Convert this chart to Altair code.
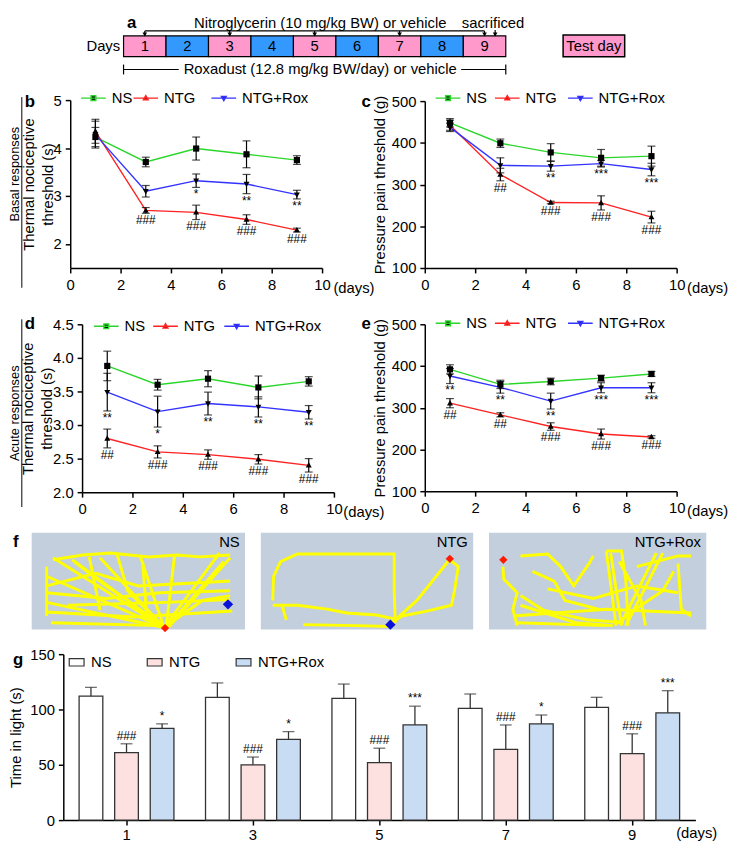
import altair as alt
import pandas as pd

FONT = "Liberation Sans"

# ---------------- categories ----------------
days = [1, 3, 5, 7, 9]
groups = ["NS", "NTG", "NTG+Rox"]
timeline_days = [1, 2, 3, 4, 5, 6, 7, 8, 9]
nitro_days = [1, 3, 5, 7, 9]

# ---------------- panel b: basal thermal threshold (s) ----------------
b_ns = [4.23, 3.71, 3.99, 3.87, 3.75]
b_ns_err = [0.20, 0.10, 0.24, 0.28, 0.09]
b_ntg = [4.35, 2.70, 2.66, 2.51, 2.29]
b_ntg_err = [0.25, 0.06, 0.15, 0.10, 0.04]
b_rox = [4.28, 3.10, 3.32, 3.25, 3.03]
b_rox_err = [0.28, 0.12, 0.14, 0.20, 0.09]
b_ntg_sig = ["", "###", "###", "###", "###"]
b_rox_sig = ["", "", "*", "**", "**"]

# ---------------- panel c: basal pressure pain threshold (g) ----------------
c_ns = [448, 399, 377, 364, 368]
c_ns_err = [10, 10, 21, 20, 24]
c_ntg = [442, 324, 257, 256, 222]
c_ntg_err = [12, 15, 3, 17, 14]
c_rox = [437, 346, 344, 350, 336]
c_rox_err = [10, 18, 12, 8, 15]
c_ntg_sig = ["", "##", "###", "###", "###"]
c_rox_sig = ["", "", "**", "***", "***"]

# ---------------- panel d: acute thermal threshold (s) ----------------
d_ns = [3.88, 3.60, 3.69, 3.56, 3.65]
d_ns_err = [0.22, 0.08, 0.12, 0.17, 0.07]
d_ntg = [2.80, 2.60, 2.56, 2.49, 2.40]
d_ntg_err = [0.14, 0.09, 0.07, 0.07, 0.10]
d_rox = [3.49, 3.20, 3.32, 3.27, 3.19]
d_rox_err = [0.28, 0.23, 0.17, 0.15, 0.10]
d_ntg_sig = ["##", "###", "###", "###", "###"]
d_rox_sig = ["**", "*", "**", "**", "**"]

# ---------------- panel e: acute pressure pain threshold (g) ----------------
e_ns = [392, 356, 363, 371, 381]
e_ns_err = [11, 10, 8, 7, 6]
e_ntg = [311, 283, 255, 237, 230]
e_ntg_err = [11, 5, 9, 12, 3]
e_rox = [376, 349, 316, 348, 348]
e_rox_err = [18, 14, 19, 12, 12]
e_ntg_sig = ["##", "##", "###", "###", "###"]
e_rox_sig = ["**", "**", "**", "***", "***"]

# ---------------- panel g: time in light (s) ----------------
g_ns = [112, 111, 110, 101, 102]
g_ns_err = [8, 13, 13, 13, 9]
g_ntg = [61, 50, 52, 64, 60]
g_ntg_err = [8, 7, 13, 22, 18]
g_rox = [83, 73, 86, 87, 97]
g_rox_err = [4, 7, 17, 8, 20]
g_ntg_sig = ["###", "###", "###", "###", "###"]
g_rox_sig = ["*", "*", "***", "*", "***"]

# ---------------- panel f: traced tracks (fraction of frame) ----------------
ns_tracks = [
    [(0.10, 0.28), (0.24, 0.23), (0.37, 0.21), (0.55, 0.25), (0.68, 0.23), (0.79, 0.25), (0.93, 0.23)],
    [(0.10, 0.26), (0.62, 0.98)],
    [(0.19, 0.28), (0.62, 0.98)],
    [(0.32, 0.26), (0.62, 0.98)],
    [(0.51, 0.25), (0.62, 0.98)],
    [(0.67, 0.23), (0.63, 0.98)],
    [(0.88, 0.21), (0.62, 0.98)],
    [(0.93, 0.26), (0.64, 0.98)],
    [(0.07, 0.45), (0.62, 0.98)],
    [(0.07, 0.72), (0.62, 0.98)],
    [(0.07, 0.82), (0.48, 0.87), (0.94, 0.81)],
    [(0.09, 0.93), (0.60, 0.96)],
    [(0.17, 0.75), (0.63, 0.72), (0.93, 0.69)],
    [(0.07, 0.35), (0.07, 0.86)],
    [(0.27, 0.25), (0.32, 0.80)],
    [(0.52, 0.30), (0.54, 0.88)],
    [(0.64, 0.96), (0.90, 0.30)],
    [(0.07, 0.55), (0.30, 0.42), (0.50, 0.55), (0.93, 0.50)],
    [(0.20, 0.30), (0.35, 0.55), (0.45, 0.70), (0.62, 0.98)],
    [(0.40, 0.22), (0.45, 0.60), (0.62, 0.98)],
    [(0.07, 0.62), (0.35, 0.68), (0.60, 0.62), (0.93, 0.60)],
    [(0.62, 0.98), (0.80, 0.70), (0.93, 0.65)],
]
ntg_tracks = [
    [(0.056, 0.70), (0.060, 0.45), (0.093, 0.30), (0.172, 0.22), (0.405, 0.22), (0.628, 0.22), (0.628, 0.60), (0.633, 0.93)],
    [(0.056, 0.75), (0.172, 0.75), (0.312, 0.79), (0.405, 0.83), (0.544, 0.85), (0.628, 0.89)],
    [(0.614, 0.94), (0.735, 0.70), (0.888, 0.28)],
    [(0.888, 0.28), (0.930, 0.35), (0.912, 0.60), (0.898, 0.75), (0.781, 0.81), (0.665, 0.86), (0.614, 0.93)],
    [(0.20, 0.95), (0.45, 0.96), (0.61, 0.97)],
    [(0.10, 0.75), (0.12, 0.90)],
]
rox_tracks = [
    [(0.064, 0.35), (0.068, 0.48), (0.13, 0.62), (0.11, 0.79), (0.13, 0.96)],
    [(0.145, 0.24), (0.27, 0.22), (0.33, 0.35), (0.39, 0.55), (0.46, 0.32), (0.48, 0.24)],
    [(0.54, 0.19), (0.585, 0.96)],
    [(0.56, 0.21), (0.61, 0.96)],
    [(0.54, 0.19), (0.61, 0.19), (0.63, 0.50), (0.64, 0.96)],
    [(0.80, 0.21), (0.63, 0.96)],
    [(0.77, 0.21), (0.61, 0.93)],
    [(0.68, 0.35), (0.87, 0.24), (0.93, 0.24)],
    [(0.87, 0.32), (0.885, 0.79), (0.93, 0.86)],
    [(0.11, 0.86), (0.54, 0.79), (0.93, 0.83)],
    [(0.13, 0.93), (0.54, 0.96)],
    [(0.145, 0.75), (0.40, 0.93), (0.57, 0.96)],
    [(0.27, 0.58), (0.48, 0.68), (0.68, 0.55), (0.87, 0.62)],
    [(0.20, 0.40), (0.30, 0.50), (0.35, 0.70), (0.52, 0.80)],
    [(0.60, 0.30), (0.70, 0.70), (0.72, 0.96)],
    [(0.85, 0.40), (0.80, 0.60), (0.70, 0.75), (0.58, 0.95)],
    [(0.145, 0.65), (0.25, 0.80), (0.45, 0.90), (0.62, 0.93)],
]
blue_marks = {"NS": [(0.92, 0.74)], "NTG": [(0.61, 0.95)], "NTG+Rox": []}
red_marks = {"NS": [(0.625, 0.985)], "NTG": [(0.89, 0.27)], "NTG+Rox": [(0.066, 0.28)]}

# ---------------- styles / layout (page pixels, converted by P) ----------------
W, H = 720, 828
LINE_COLORS = ["#2bd62b", "#ff2222", "#3333ff"]
MARKERS = [
    "M-0.25,-0.25H0.25V0.25H-0.25Z",
    "M0,-0.26L0.24,0.18H-0.24Z",
    "M0,0.26L0.24,-0.18H-0.24Z",
]
# legend keys: a line segment with the group's marker on it
KEY_PATHS = [
    "M-1,0H1M-0.19,-0.19H0.19V0.19H-0.19Z",
    "M-1,0H1M0,-0.2L0.19,0.14H-0.19Z",
    "M-1,0H1M0,0.2L0.19,-0.14H-0.19Z",
]
BAR_FILLS = ["#ffffff", "#fde0e0", "#c8dcf4"]
ONE = pd.DataFrame({"k": [0]})


def P(v):
    return v - 8


def txt_value(text, x, y, **kw):
    props = dict(fontSize=15, align="left", baseline="middle")
    props.update(kw)
    return alt.Chart(ONE).mark_text(**props).encode(
        x=alt.value(P(x)), y=alt.value(P(y)), text=alt.value(text))


def series_df(ns, ns_e, ntg, ntg_e, rox, rox_e, ntg_sig, rox_sig):
    rows = []
    for g, vals, errs, sigs in zip(
        groups, [ns, ntg, rox], [ns_e, ntg_e, rox_e], [[""] * len(days), ntg_sig, rox_sig]
    ):
        for d, v, e, s in zip(days, vals, errs, sigs):
            rows.append({"day": d, "group": g, "grp": g, "value": v,
                         "lo": v - e, "hi": v + e, "sig": s})
    return pd.DataFrame(rows)


def line_panel(df, ydom, yvals, yfmt, ytitle, tpad, x0, x1, ytop, ybot, leg_x, leg_y, days_x, leg_dx):
    xs = alt.Scale(domain=[0, 10], range=[P(x0), P(x1)], nice=False, zero=False)
    ys = alt.Scale(domain=ydom, range=[P(ybot), P(ytop)], nice=False, zero=False)
    xax = alt.Axis(values=[0, 2, 4, 6, 8, 10], orient="bottom", offset=P(ybot) - H,
                   title="(days)", titleX=P(days_x), titleY=20, titleAlign="left",
                   titleBaseline="middle")
    yax = alt.Axis(values=yvals, format=yfmt, orient="left", offset=-P(x0),
                   title=ytitle, titlePadding=tpad)
    X = alt.X("day:Q", scale=xs, axis=xax)

    def Y(f):
        return alt.Y(f"{f}:Q", scale=ys, axis=yax)

    base = alt.Chart(df)
    layers = []
    # one line layer per group, each with its own one-entry legend (line + marker key)
    for g, col, key, dx in zip(groups, LINE_COLORS, KEY_PATHS, leg_dx):
        leg = alt.Legend(orient="none", legendX=P(leg_x + dx), legendY=P(leg_y) - 19.5,
                         direction="horizontal", title=None, symbolType=key, symbolSize=625,
                         symbolStrokeWidth=1.5, symbolFillColor="black",
                         labelFontSize=15, labelOffset=5)
        layers.append(
            base.transform_filter(alt.datum.group == g).mark_line(strokeWidth=1.4).encode(
                x=X, y=Y("value"),
                color=alt.Color("group:N", scale=alt.Scale(domain=[g], range=[col]), legend=leg),
            )
        )
    err = base.mark_rule(color="black", strokeWidth=1.2).encode(x=X, y=Y("lo"), y2="hi:Q")
    cap_lo = base.mark_tick(orient="horizontal", size=8, thickness=1.2, color="black").encode(x=X, y=Y("lo"))
    cap_hi = base.mark_tick(orient="horizontal", size=8, thickness=1.2, color="black").encode(x=X, y=Y("hi"))
    pts = base.mark_point(filled=True, size=625, color="black", opacity=1, strokeWidth=0).encode(
        x=X, y=Y("value"),
        shape=alt.Shape("grp:N", scale=alt.Scale(domain=groups, range=MARKERS), legend=None),
    )
    sig = base.mark_text(fontSize=12, baseline="top", dy=2).encode(x=X, y=Y("lo"), text="sig:N")
    layers += [err, cap_lo, cap_hi, pts, sig]
    return alt.layer(*layers).resolve_scale(color="independent")


# ---------------- panel a: timeline schematic ----------------
a_x = alt.Scale(domain=[0.5, 12.5], range=[P(124), P(640)], nice=False, zero=False)
a_y = alt.Scale(domain=[0, 100], range=[P(0), P(100)], nice=False, zero=False)


def XD(v):
    return alt.XDatum(v, scale=a_x, axis=None)


def YD(v):
    return alt.YDatum(v, scale=a_y, axis=None)


def a_text(txt, x, y, **kw):
    props = dict(fontSize=15, baseline="middle")
    props.update(kw)
    return alt.Chart(ONE).mark_text(**props).encode(x=XD(x), y=YD(y), text=alt.value(txt))


def a_hrule(x1, x2, y):
    return alt.Chart(ONE).mark_rule(color="black", strokeWidth=1.2).encode(
        x=XD(x1), x2=alt.datum(x2), y=YD(y))


def a_vrule(x, y1, y2):
    return alt.Chart(ONE).mark_rule(color="black", strokeWidth=1.2).encode(
        x=XD(x), y=YD(y1), y2=alt.datum(y2))


tl = pd.DataFrame({"day": timeline_days,
                   "kind": ["test" if d % 2 else "rest" for d in timeline_days]})
boxes = alt.Chart(tl).transform_calculate(
    x0="datum.day - 0.5", x1="datum.day + 0.5", yt="28", yb="49"
).mark_rect(stroke="black", strokeWidth=1.2).encode(
    x=alt.X("x0:Q", scale=a_x, axis=None), x2="x1:Q",
    y=alt.Y("yt:Q", scale=a_y, axis=None), y2="yb:Q",
    fill=alt.Fill("kind:N", scale=alt.Scale(domain=["test", "rest"], range=["#ff99cc", "#3399ff"]),
                  legend=None),
)
day_nums = alt.Chart(tl).mark_text(fontSize=15, baseline="middle").encode(
    x=alt.X("day:Q", scale=a_x, axis=None), y=YD(38.5), text="day:N")
nd = pd.DataFrame({"day": nitro_days})
shafts = alt.Chart(nd).mark_rule(color="black", strokeWidth=1.2).encode(
    x=alt.X("day:Q", scale=a_x, axis=None), y=YD(23), y2=alt.datum(28))
heads = alt.Chart(nd).mark_point(shape="triangle-down", filled=True, size=22, color="black", opacity=1).encode(
    x=alt.X("day:Q", scale=a_x, axis=None), y=YD(26.5))
sac_shaft = a_vrule(9.25, 22, 28)
sac_head = alt.Chart(ONE).mark_point(shape="triangle-down", filled=True, size=22, color="black", opacity=1).encode(
    x=XD(9.25), y=YD(26.5))
test_box = alt.Chart(ONE).mark_rect(fill="#ff99cc", stroke="black", strokeWidth=1.5).encode(
    x=XD(10.85), x2=alt.datum(12.3), y=YD(27), y2=alt.datum(49))

panel_a = alt.layer(
    boxes, day_nums,
    a_hrule(1, 9, 23), shafts, heads, sac_shaft, sac_head,
    a_hrule(0.5, 1.8, 62), a_hrule(8.45, 9.5, 62), a_vrule(0.5, 57, 67), a_vrule(9.5, 57, 67),
    test_box,
    a_text("Days", 0.42, 38.5, align="right"),
    a_text("a", 0.58, 15, align="left", fontWeight="bold", fontSize=17),
    a_text("Nitroglycerin (10 mg/kg BW) or vehicle", 5.13, 15.5),
    a_text("sacrificed", 9.2, 15.5),
    a_text("Roxadust (12.8 mg/kg BW/day) or vehicle", 5.13, 62),
    a_text("Test day", 11.575, 38.5),
)

# ---------------- panels b-e ----------------
TT = ["Thermal nociceptive", "threshold (s)"]
PT = "Pressure pain threshold (g)"
panel_b = line_panel(series_df(b_ns, b_ns_err, b_ntg, b_ntg_err, b_rox, b_rox_err, b_ntg_sig, b_rox_sig),
                     [1.5, 5], [2, 3, 4, 5], "d", TT, -2, 70, 325, 93, 263, 80, 97, 336, [0, 53, 132])
panel_c = line_panel(series_df(c_ns, c_ns_err, c_ntg, c_ntg_err, c_rox, c_rox_err, c_ntg_sig, c_rox_sig),
                     [100, 500], [100, 200, 300, 400, 500], "d", PT, 4, 429, 684, 94, 263, 439, 97, 694,
                     [0, 60, 134])
panel_d = line_panel(series_df(d_ns, d_ns_err, d_ntg, d_ntg_err, d_rox, d_rox_err, d_ntg_sig, d_rox_sig),
                     [2, 4.5], [2.0, 2.5, 3.0, 3.5, 4.0, 4.5], ".1f", TT, -2, 82, 337, 320, 490, 93, 328, 346,
                     [0, 60, 132])
panel_e = line_panel(series_df(e_ns, e_ns_err, e_ntg, e_ntg_err, e_rox, e_rox_err, e_ntg_sig, e_rox_sig),
                     [100, 500], [100, 200, 300, 400, 500], "d", PT, 4, 429, 684, 320, 489, 439, 325, 694,
                     [0, 60, 134])


# ---------------- panel f ----------------
def track_panel(name, tracks, x0, x1, y0, y1):
    rows = []
    for i, tr in enumerate(tracks):
        for j, (x, y) in enumerate(tr):
            rows.append({"path": i, "idx": j, "x": x, "y": y})
    df = pd.DataFrame(rows)
    xs = alt.Scale(domain=[0, 1], range=[P(x0), P(x1)], nice=False, zero=False)
    ys = alt.Scale(domain=[0, 1], range=[P(y0), P(y1)], nice=False, zero=False)
    bg = alt.Chart(ONE).mark_rect(fill="#c3cfdc").encode(
        x=alt.XDatum(0, scale=xs, axis=None), x2=alt.datum(1),
        y=alt.YDatum(0, scale=ys, axis=None), y2=alt.datum(1))
    lines = alt.Chart(df).mark_line(color="#ffff00", strokeWidth=3).encode(
        x=alt.X("x:Q", scale=xs, axis=None), y=alt.Y("y:Q", scale=ys, axis=None),
        detail="path:N", order="idx:Q")
    layers = [bg, lines]
    if blue_marks[name]:
        bdf = pd.DataFrame(blue_marks[name], columns=["x", "y"])
        layers.append(alt.Chart(bdf).mark_point(shape="diamond", filled=True, size=110, color="#0a12d8", opacity=1).encode(
            x=alt.X("x:Q", scale=xs, axis=None), y=alt.Y("y:Q", scale=ys, axis=None)))
    if red_marks[name]:
        rdf = pd.DataFrame(red_marks[name], columns=["x", "y"])
        layers.append(alt.Chart(rdf).mark_point(shape="diamond", filled=True, size=70, color="#ff1a00", opacity=1).encode(
            x=alt.X("x:Q", scale=xs, axis=None), y=alt.Y("y:Q", scale=ys, axis=None)))
    layers.append(alt.Chart(ONE).mark_text(fontSize=15, align="right", baseline="middle").encode(
        x=alt.XDatum(0.975, scale=xs, axis=None), y=alt.YDatum(0.1, scale=ys, axis=None),
        text=alt.value(name)))
    return alt.layer(*layers)


f1 = track_panel("NS", ns_tracks, 31, 247, 531, 629)
f2 = track_panel("NTG", ntg_tracks, 263, 478, 531, 629)
f3 = track_panel("NTG+Rox", rox_tracks, 494, 714, 531, 629)

# ---------------- panel g ----------------
grows = []
for g, vals, errs, sigs in zip(groups, [g_ns, g_ntg, g_rox], [g_ns_err, g_ntg_err, g_rox_err],
                               [[""] * len(days), g_ntg_sig, g_rox_sig]):
    for d, v, e, s in zip(days, vals, errs, sigs):
        grows.append({"day": d, "treat": g, "value": v, "hi": v + e, "sig": s})
gdf = pd.DataFrame(grows)

GX = alt.X("day:O", scale=alt.Scale(domain=days, range=[P(63), P(703)], paddingInner=0, paddingOuter=0),
           axis=alt.Axis(labelAngle=0, orient="bottom", offset=P(822) - H, title="(days)",
                         titleX=P(683), titleY=13, titleAlign="left", titleBaseline="middle",
                         labelPadding=3))
GXO = alt.XOffset("treat:N", scale=alt.Scale(domain=groups, paddingInner=1 / 3, paddingOuter=0.444))
gys = alt.Scale(domain=[0, 150], range=[P(822), P(654)], nice=False, zero=False)
gyax = alt.Axis(values=[0, 50, 100, 150], orient="left", offset=-P(63),
                title="Time in light (s)", titlePadding=6)
gbase = alt.Chart(gdf)
gbars = gbase.mark_bar(stroke="#333333", strokeWidth=1.3).encode(
    x=GX, xOffset=GXO, y=alt.Y("value:Q", scale=gys, axis=gyax),
    fill=alt.Fill("treat:N", scale=alt.Scale(domain=groups, range=BAR_FILLS),
                  legend=alt.Legend(orient="none", legendX=P(68), legendY=P(661) - 7.5,
                                    direction="horizontal", title=None,
                                    symbolType="M-1,-0.5H1V0.5H-1Z", symbolSize=225,
                                    symbolStrokeColor="#333333", symbolStrokeWidth=1.2,
                                    labelFontSize=15, labelOffset=6, columnPadding=33)),
)
gerr = gbase.mark_rule(color="#333333", strokeWidth=1.3).encode(
    x=GX, xOffset=GXO, y=alt.Y("value:Q", scale=gys, axis=gyax), y2="hi:Q")
gcap = gbase.mark_tick(orient="horizontal", size=12, thickness=1.3, color="#333333").encode(
    x=GX, xOffset=GXO, y=alt.Y("hi:Q", scale=gys, axis=gyax))
gsig = gbase.mark_text(fontSize=12, baseline="bottom", dy=-1).encode(
    x=GX, xOffset=GXO, y=alt.Y("hi:Q", scale=gys, axis=gyax), text="sig:N")
panel_g = alt.layer(gbars, gerr, gcap, gsig)

# ---------------- letters and side labels ----------------
side = alt.layer(
    alt.Chart(ONE).mark_rule(color="black", strokeWidth=1).encode(
        x=alt.value(P(21)), y=alt.value(P(90)), y2=alt.value(P(283))),
    alt.Chart(ONE).mark_rule(color="black", strokeWidth=1).encode(
        x=alt.value(P(21)), y=alt.value(P(315)), y2=alt.value(P(505))),
    txt_value("Basal responses", 14.5, 168, angle=270, align="center", fontSize=13),
    txt_value("Acute responses", 14.5, 410, angle=270, align="center", fontSize=13),
    txt_value("b", 24, 95, fontWeight="bold", fontSize=17),
    txt_value("c", 365, 95, fontWeight="bold", fontSize=17),
    txt_value("d", 24, 320, fontWeight="bold", fontSize=17),
    txt_value("e", 365, 320, fontWeight="bold", fontSize=17),
    txt_value("f", 12, 540, fontWeight="bold", fontSize=17),
    txt_value("g", 12, 660, fontWeight="bold", fontSize=17),
)

chart = alt.layer(
    panel_a, panel_b, panel_c, panel_d, panel_e, f1, f2, f3, panel_g, side
).resolve_scale(
    x="independent", y="independent", color="independent", shape="independent",
    fill="independent", xOffset="independent",
).properties(width=W, height=H, padding=0).configure(
    font=FONT
).configure_view(stroke=None).configure_axis(
    labelFont=FONT, titleFont=FONT, labelFontSize=15, titleFontSize=15, titleFontWeight="normal",
    labelColor="black", titleColor="black", domainColor="black", tickColor="black",
    domainWidth=1.5, tickWidth=1.5, tickSize=5, grid=False, labelFlush=False,
).configure_axisX(labelPadding=5).configure_axisY(labelPadding=4, minExtent=0, titleLineHeight=19
).configure_legend(labelFont=FONT, labelColor="black").configure_text(font=FONT, color="black")

chart.save("out.html", embed_options={"renderer": "svg", "actions": False})
